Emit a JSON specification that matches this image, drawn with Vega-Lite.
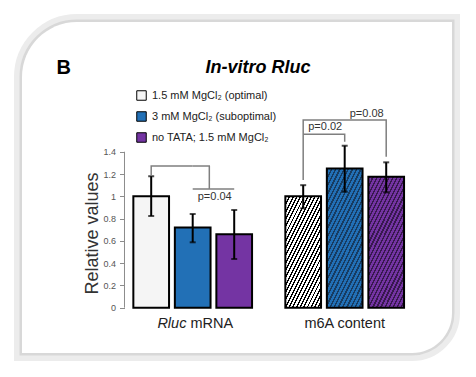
{
"$schema": "https://vega.github.io/schema/vega-lite/v6.json",
"width": 430, "height": 331,
"autosize": {"type": "none"},
"padding": {"left": 22, "top": 22, "right": 24, "bottom": 24},
"background": "white",
"title": {"text": "In-vitro Rluc", "font": "Liberation Sans", "fontSize": 18, "fontWeight": "bold", "fontStyle": "italic", "color": "black", "anchor": "middle", "frame": "group", "baseline": "middle", "offset": 0, "dx": 21, "dy": 72},
"config": {"view": {"stroke": null}, "font": "Liberation Sans"},
"datasets": {
"bars": [
{"group": "Rluc mRNA", "cond": "1.5 mM MgCl₂ (optimal)", "value": 1.0, "lo": 0.823, "hi": 1.18},
{"group": "Rluc mRNA", "cond": "3 mM MgCl₂ (suboptimal)", "value": 0.72, "lo": 0.587, "hi": 0.841},
{"group": "Rluc mRNA", "cond": "no TATA; 1.5 mM MgCl₂", "value": 0.66, "lo": 0.437, "hi": 0.877},
{"group": "m6A content", "cond": "1.5 mM MgCl₂ (optimal)", "value": 1.0, "lo": 0.892, "hi": 1.10},
{"group": "m6A content", "cond": "3 mM MgCl₂ (suboptimal)", "value": 1.25, "lo": 1.041, "hi": 1.454},
{"group": "m6A content", "cond": "no TATA; 1.5 mM MgCl₂", "value": 1.176, "lo": 1.036, "hi": 1.305}
],
"brackets": [
{"id": "b1", "ord": 1, "group": "Rluc mRNA", "cond": "1.5 mM MgCl₂ (optimal)", "y": 1.19},
{"id": "b1", "ord": 2, "group": "Rluc mRNA", "cond": "1.5 mM MgCl₂ (optimal)", "y": 1.272},
{"id": "b1", "ord": 3, "group": "Rluc mRNA", "cond": "3 mM MgCl₂ (suboptimal)", "y": 1.272},
{"id": "b2", "ord": 1, "group": "Rluc mRNA", "cond": "3 mM MgCl₂ (suboptimal)", "y": 1.066},
{"id": "b2", "ord": 2, "group": "Rluc mRNA", "cond": "no TATA; 1.5 mM MgCl₂", "y": 1.066},
{"id": "b4", "ord": 1, "group": "m6A content", "cond": "1.5 mM MgCl₂ (optimal)", "y": 1.146},
{"id": "b4", "ord": 2, "group": "m6A content", "cond": "1.5 mM MgCl₂ (optimal)", "y": 1.686},
{"id": "b4", "ord": 3, "group": "m6A content", "cond": "no TATA; 1.5 mM MgCl₂", "y": 1.686},
{"id": "b4", "ord": 4, "group": "m6A content", "cond": "no TATA; 1.5 mM MgCl₂", "y": 1.356},
{"id": "b5", "ord": 1, "group": "m6A content", "cond": "1.5 mM MgCl₂ (optimal)", "y": 1.557},
{"id": "b5", "ord": 2, "group": "m6A content", "cond": "3 mM MgCl₂ (suboptimal)", "y": 1.557},
{"id": "b5", "ord": 3, "group": "m6A content", "cond": "3 mM MgCl₂ (suboptimal)", "y": 1.49}
],
"plabels": [
{"group": "Rluc mRNA", "cond": "3 mM MgCl₂ (suboptimal)", "y": 0.996, "label": "p=0.04"},
{"group": "m6A content", "cond": "1.5 mM MgCl₂ (optimal)", "y": 1.625, "label": "p=0.02"},
{"group": "m6A content", "cond": "3 mM MgCl₂ (suboptimal)", "y": 1.736, "label": "p=0.08"}
]
},
"layer": [
{"data": {"values": [{}]}, "mark": {"type": "rect", "fillOpacity": 0, "stroke": "#ececec", "strokeWidth": 16, "cornerRadiusTopLeft": 55, "cornerRadiusBottomRight": 40}, "encoding": {"x": {"value": 0}, "x2": {"value": "width"}, "y": {"value": 0}, "y2": {"value": "height"}}},
{"data": {"values": [{}]}, "mark": {"type": "rect", "fillOpacity": 0, "stroke": "#d8d8d8", "strokeWidth": 5, "cornerRadiusTopLeft": 55, "cornerRadiusBottomRight": 40}, "encoding": {"x": {"value": 0}, "x2": {"value": "width"}, "y": {"value": 0}, "y2": {"value": "height"}}},
{"data": {"values": [{}]}, "mark": {"type": "rect", "fill": "white", "strokeWidth": 0, "cornerRadiusTopLeft": 55, "cornerRadiusBottomRight": 40}, "encoding": {"x": {"value": 0}, "x2": {"value": "width"}, "y": {"value": 0}, "y2": {"value": "height"}}},
{"data": {"name": "bars"}, "transform": [{"filter": {"field": "group", "equal": "Rluc mRNA"}}],
 "mark": {"type": "bar", "stroke": "black", "strokeWidth": 2},
 "encoding": {
  "x": {"field": "group", "type": "nominal", "axis": null, "scale": {"domain": ["Rluc mRNA", "m6A content"], "paddingInner": 0.219, "paddingOuter": 0.524, "align": 0.699, "round": false}},
  "xOffset": {"field": "cond", "type": "nominal", "scale": {"domain": ["1.5 mM MgCl₂ (optimal)", "3 mM MgCl₂ (suboptimal)", "no TATA; 1.5 mM MgCl₂"], "paddingInner": 0.14, "paddingOuter": 0}},
  "y": {"field": "value", "type": "quantitative", "scale": {"domain": [-0.407, 2.565], "zero": false, "nice": false},
   "axis": {"title": "Relative values", "zindex": 2, "values": [0, 0.2, 0.4, 0.6, 0.8, 1, 1.2, 1.4], "format": ".1~f", "offset": -102.5, "domain": false, "grid": false, "ticks": true, "tickSize": 5, "tickColor": "#8c8c8c", "labelFontSize": 9, "labelColor": "#555555", "labelPadding": 4, "labelFont": "Liberation Sans", "titleFont": "Liberation Sans", "titleFontSize": 18, "titleFontWeight": "normal", "titleColor": "#333333", "titleAngle": -90, "titleAlign": "center", "titleBaseline": "middle", "titleX": -32, "titleY": 211}},
  "y2": {"datum": 0},
  "fill": {"field": "cond", "type": "nominal", "scale": {"domain": ["1.5 mM MgCl₂ (optimal)", "3 mM MgCl₂ (suboptimal)", "no TATA; 1.5 mM MgCl₂"], "range": ["#f5f5f5", "#2270b6", "#7434a3"]},
   "legend": {"title": null, "orient": "none", "legendX": 114, "legendY": 68, "padding": 0, "symbolType": "square", "symbolSize": 90, "symbolStrokeColor": "black", "symbolStrokeWidth": 1, "labelFontSize": 11, "labelFont": "Liberation Sans", "labelColor": "#222222", "rowPadding": 6, "labelOffset": 5, "zindex": 2}}
 }},
{"data": {"values": [{}]}, "mark": {"type": "rule", "color": "#8c8c8c", "strokeWidth": 1, "xOffset": -8.85},
 "encoding": {"x": {"datum": "Rluc mRNA", "type": "nominal", "bandPosition": 0, "axis": null}, "y": {"datum": 0, "type": "quantitative"}, "y2": {"datum": 1.4}}},
{"data": {"name": "bars"}, "transform": [{"filter": {"field": "group", "equal": "m6A content"}}, {"filter": {"field": "cond", "equal": "1.5 mM MgCl₂ (optimal)"}}],
 "mark": {"type": "bar", "stroke": "black", "strokeWidth": 2, "fill": {"gradient": "linear", "x1": 0, "y1": 0, "x2": 0.746, "y2": 1.163, "stops": [{"offset":0,"color":"#000"},{"offset":0.016,"color":"#000"},{"offset":0.016,"color":"#fff"},{"offset":0.04,"color":"#fff"},{"offset":0.04,"color":"#000"},{"offset":0.056,"color":"#000"},{"offset":0.056,"color":"#fff"},{"offset":0.08,"color":"#fff"},{"offset":0.08,"color":"#000"},{"offset":0.096,"color":"#000"},{"offset":0.096,"color":"#fff"},{"offset":0.12,"color":"#fff"},{"offset":0.12,"color":"#000"},{"offset":0.136,"color":"#000"},{"offset":0.136,"color":"#fff"},{"offset":0.16,"color":"#fff"},{"offset":0.16,"color":"#000"},{"offset":0.176,"color":"#000"},{"offset":0.176,"color":"#fff"},{"offset":0.2,"color":"#fff"},{"offset":0.2,"color":"#000"},{"offset":0.216,"color":"#000"},{"offset":0.216,"color":"#fff"},{"offset":0.24,"color":"#fff"},{"offset":0.24,"color":"#000"},{"offset":0.256,"color":"#000"},{"offset":0.256,"color":"#fff"},{"offset":0.28,"color":"#fff"},{"offset":0.28,"color":"#000"},{"offset":0.296,"color":"#000"},{"offset":0.296,"color":"#fff"},{"offset":0.32,"color":"#fff"},{"offset":0.32,"color":"#000"},{"offset":0.336,"color":"#000"},{"offset":0.336,"color":"#fff"},{"offset":0.36,"color":"#fff"},{"offset":0.36,"color":"#000"},{"offset":0.376,"color":"#000"},{"offset":0.376,"color":"#fff"},{"offset":0.4,"color":"#fff"},{"offset":0.4,"color":"#000"},{"offset":0.416,"color":"#000"},{"offset":0.416,"color":"#fff"},{"offset":0.44,"color":"#fff"},{"offset":0.44,"color":"#000"},{"offset":0.456,"color":"#000"},{"offset":0.456,"color":"#fff"},{"offset":0.48,"color":"#fff"},{"offset":0.48,"color":"#000"},{"offset":0.496,"color":"#000"},{"offset":0.496,"color":"#fff"},{"offset":0.52,"color":"#fff"},{"offset":0.52,"color":"#000"},{"offset":0.536,"color":"#000"},{"offset":0.536,"color":"#fff"},{"offset":0.56,"color":"#fff"},{"offset":0.56,"color":"#000"},{"offset":0.576,"color":"#000"},{"offset":0.576,"color":"#fff"},{"offset":0.6,"color":"#fff"},{"offset":0.6,"color":"#000"},{"offset":0.616,"color":"#000"},{"offset":0.616,"color":"#fff"},{"offset":0.64,"color":"#fff"},{"offset":0.64,"color":"#000"},{"offset":0.656,"color":"#000"},{"offset":0.656,"color":"#fff"},{"offset":0.68,"color":"#fff"},{"offset":0.68,"color":"#000"},{"offset":0.696,"color":"#000"},{"offset":0.696,"color":"#fff"},{"offset":0.72,"color":"#fff"},{"offset":0.72,"color":"#000"},{"offset":0.736,"color":"#000"},{"offset":0.736,"color":"#fff"},{"offset":0.76,"color":"#fff"},{"offset":0.76,"color":"#000"},{"offset":0.776,"color":"#000"},{"offset":0.776,"color":"#fff"},{"offset":0.8,"color":"#fff"},{"offset":0.8,"color":"#000"},{"offset":0.816,"color":"#000"},{"offset":0.816,"color":"#fff"},{"offset":0.84,"color":"#fff"},{"offset":0.84,"color":"#000"},{"offset":0.856,"color":"#000"},{"offset":0.856,"color":"#fff"},{"offset":0.88,"color":"#fff"},{"offset":0.88,"color":"#000"},{"offset":0.896,"color":"#000"},{"offset":0.896,"color":"#fff"},{"offset":0.92,"color":"#fff"},{"offset":0.92,"color":"#000"},{"offset":0.936,"color":"#000"},{"offset":0.936,"color":"#fff"},{"offset":0.96,"color":"#fff"},{"offset":0.96,"color":"#000"},{"offset":0.976,"color":"#000"},{"offset":0.976,"color":"#fff"},{"offset":1,"color":"#fff"}]}},
 "encoding": {"x": {"field": "group", "type": "nominal", "axis": null}, "xOffset": {"field": "cond", "type": "nominal"}, "y": {"field": "value", "type": "quantitative"}, "y2": {"datum": 0}}},
{"data": {"name": "bars"}, "transform": [{"filter": {"field": "group", "equal": "m6A content"}}, {"filter": {"field": "cond", "equal": "3 mM MgCl₂ (suboptimal)"}}],
 "mark": {"type": "bar", "stroke": "black", "strokeWidth": 2, "fill": {"gradient": "linear", "x1": 0, "y1": 0, "x2": 0.619, "y2": 1.197, "stops": [{"offset":0,"color":"#173c61"},{"offset":0.016,"color":"#173c61"},{"offset":0.016,"color":"#2270b6"},{"offset":0.04,"color":"#2270b6"},{"offset":0.04,"color":"#173c61"},{"offset":0.056,"color":"#173c61"},{"offset":0.056,"color":"#2270b6"},{"offset":0.08,"color":"#2270b6"},{"offset":0.08,"color":"#173c61"},{"offset":0.096,"color":"#173c61"},{"offset":0.096,"color":"#2270b6"},{"offset":0.12,"color":"#2270b6"},{"offset":0.12,"color":"#173c61"},{"offset":0.136,"color":"#173c61"},{"offset":0.136,"color":"#2270b6"},{"offset":0.16,"color":"#2270b6"},{"offset":0.16,"color":"#173c61"},{"offset":0.176,"color":"#173c61"},{"offset":0.176,"color":"#2270b6"},{"offset":0.2,"color":"#2270b6"},{"offset":0.2,"color":"#173c61"},{"offset":0.216,"color":"#173c61"},{"offset":0.216,"color":"#2270b6"},{"offset":0.24,"color":"#2270b6"},{"offset":0.24,"color":"#173c61"},{"offset":0.256,"color":"#173c61"},{"offset":0.256,"color":"#2270b6"},{"offset":0.28,"color":"#2270b6"},{"offset":0.28,"color":"#173c61"},{"offset":0.296,"color":"#173c61"},{"offset":0.296,"color":"#2270b6"},{"offset":0.32,"color":"#2270b6"},{"offset":0.32,"color":"#173c61"},{"offset":0.336,"color":"#173c61"},{"offset":0.336,"color":"#2270b6"},{"offset":0.36,"color":"#2270b6"},{"offset":0.36,"color":"#173c61"},{"offset":0.376,"color":"#173c61"},{"offset":0.376,"color":"#2270b6"},{"offset":0.4,"color":"#2270b6"},{"offset":0.4,"color":"#173c61"},{"offset":0.416,"color":"#173c61"},{"offset":0.416,"color":"#2270b6"},{"offset":0.44,"color":"#2270b6"},{"offset":0.44,"color":"#173c61"},{"offset":0.456,"color":"#173c61"},{"offset":0.456,"color":"#2270b6"},{"offset":0.48,"color":"#2270b6"},{"offset":0.48,"color":"#173c61"},{"offset":0.496,"color":"#173c61"},{"offset":0.496,"color":"#2270b6"},{"offset":0.52,"color":"#2270b6"},{"offset":0.52,"color":"#173c61"},{"offset":0.536,"color":"#173c61"},{"offset":0.536,"color":"#2270b6"},{"offset":0.56,"color":"#2270b6"},{"offset":0.56,"color":"#173c61"},{"offset":0.576,"color":"#173c61"},{"offset":0.576,"color":"#2270b6"},{"offset":0.6,"color":"#2270b6"},{"offset":0.6,"color":"#173c61"},{"offset":0.616,"color":"#173c61"},{"offset":0.616,"color":"#2270b6"},{"offset":0.64,"color":"#2270b6"},{"offset":0.64,"color":"#173c61"},{"offset":0.656,"color":"#173c61"},{"offset":0.656,"color":"#2270b6"},{"offset":0.68,"color":"#2270b6"},{"offset":0.68,"color":"#173c61"},{"offset":0.696,"color":"#173c61"},{"offset":0.696,"color":"#2270b6"},{"offset":0.72,"color":"#2270b6"},{"offset":0.72,"color":"#173c61"},{"offset":0.736,"color":"#173c61"},{"offset":0.736,"color":"#2270b6"},{"offset":0.76,"color":"#2270b6"},{"offset":0.76,"color":"#173c61"},{"offset":0.776,"color":"#173c61"},{"offset":0.776,"color":"#2270b6"},{"offset":0.8,"color":"#2270b6"},{"offset":0.8,"color":"#173c61"},{"offset":0.816,"color":"#173c61"},{"offset":0.816,"color":"#2270b6"},{"offset":0.84,"color":"#2270b6"},{"offset":0.84,"color":"#173c61"},{"offset":0.856,"color":"#173c61"},{"offset":0.856,"color":"#2270b6"},{"offset":0.88,"color":"#2270b6"},{"offset":0.88,"color":"#173c61"},{"offset":0.896,"color":"#173c61"},{"offset":0.896,"color":"#2270b6"},{"offset":0.92,"color":"#2270b6"},{"offset":0.92,"color":"#173c61"},{"offset":0.936,"color":"#173c61"},{"offset":0.936,"color":"#2270b6"},{"offset":0.96,"color":"#2270b6"},{"offset":0.96,"color":"#173c61"},{"offset":0.976,"color":"#173c61"},{"offset":0.976,"color":"#2270b6"},{"offset":1,"color":"#2270b6"}]}},
 "encoding": {"x": {"field": "group", "type": "nominal", "axis": null}, "xOffset": {"field": "cond", "type": "nominal"}, "y": {"field": "value", "type": "quantitative"}, "y2": {"datum": 0}}},
{"data": {"name": "bars"}, "transform": [{"filter": {"field": "group", "equal": "m6A content"}}, {"filter": {"field": "cond", "equal": "no TATA; 1.5 mM MgCl₂"}}],
 "mark": {"type": "bar", "stroke": "black", "strokeWidth": 2, "fill": {"gradient": "linear", "x1": 0, "y1": 0, "x2": 0.653, "y2": 1.191, "stops": [{"offset":0,"color":"#38184f"},{"offset":0.016,"color":"#38184f"},{"offset":0.016,"color":"#7434a3"},{"offset":0.04,"color":"#7434a3"},{"offset":0.04,"color":"#38184f"},{"offset":0.056,"color":"#38184f"},{"offset":0.056,"color":"#7434a3"},{"offset":0.08,"color":"#7434a3"},{"offset":0.08,"color":"#38184f"},{"offset":0.096,"color":"#38184f"},{"offset":0.096,"color":"#7434a3"},{"offset":0.12,"color":"#7434a3"},{"offset":0.12,"color":"#38184f"},{"offset":0.136,"color":"#38184f"},{"offset":0.136,"color":"#7434a3"},{"offset":0.16,"color":"#7434a3"},{"offset":0.16,"color":"#38184f"},{"offset":0.176,"color":"#38184f"},{"offset":0.176,"color":"#7434a3"},{"offset":0.2,"color":"#7434a3"},{"offset":0.2,"color":"#38184f"},{"offset":0.216,"color":"#38184f"},{"offset":0.216,"color":"#7434a3"},{"offset":0.24,"color":"#7434a3"},{"offset":0.24,"color":"#38184f"},{"offset":0.256,"color":"#38184f"},{"offset":0.256,"color":"#7434a3"},{"offset":0.28,"color":"#7434a3"},{"offset":0.28,"color":"#38184f"},{"offset":0.296,"color":"#38184f"},{"offset":0.296,"color":"#7434a3"},{"offset":0.32,"color":"#7434a3"},{"offset":0.32,"color":"#38184f"},{"offset":0.336,"color":"#38184f"},{"offset":0.336,"color":"#7434a3"},{"offset":0.36,"color":"#7434a3"},{"offset":0.36,"color":"#38184f"},{"offset":0.376,"color":"#38184f"},{"offset":0.376,"color":"#7434a3"},{"offset":0.4,"color":"#7434a3"},{"offset":0.4,"color":"#38184f"},{"offset":0.416,"color":"#38184f"},{"offset":0.416,"color":"#7434a3"},{"offset":0.44,"color":"#7434a3"},{"offset":0.44,"color":"#38184f"},{"offset":0.456,"color":"#38184f"},{"offset":0.456,"color":"#7434a3"},{"offset":0.48,"color":"#7434a3"},{"offset":0.48,"color":"#38184f"},{"offset":0.496,"color":"#38184f"},{"offset":0.496,"color":"#7434a3"},{"offset":0.52,"color":"#7434a3"},{"offset":0.52,"color":"#38184f"},{"offset":0.536,"color":"#38184f"},{"offset":0.536,"color":"#7434a3"},{"offset":0.56,"color":"#7434a3"},{"offset":0.56,"color":"#38184f"},{"offset":0.576,"color":"#38184f"},{"offset":0.576,"color":"#7434a3"},{"offset":0.6,"color":"#7434a3"},{"offset":0.6,"color":"#38184f"},{"offset":0.616,"color":"#38184f"},{"offset":0.616,"color":"#7434a3"},{"offset":0.64,"color":"#7434a3"},{"offset":0.64,"color":"#38184f"},{"offset":0.656,"color":"#38184f"},{"offset":0.656,"color":"#7434a3"},{"offset":0.68,"color":"#7434a3"},{"offset":0.68,"color":"#38184f"},{"offset":0.696,"color":"#38184f"},{"offset":0.696,"color":"#7434a3"},{"offset":0.72,"color":"#7434a3"},{"offset":0.72,"color":"#38184f"},{"offset":0.736,"color":"#38184f"},{"offset":0.736,"color":"#7434a3"},{"offset":0.76,"color":"#7434a3"},{"offset":0.76,"color":"#38184f"},{"offset":0.776,"color":"#38184f"},{"offset":0.776,"color":"#7434a3"},{"offset":0.8,"color":"#7434a3"},{"offset":0.8,"color":"#38184f"},{"offset":0.816,"color":"#38184f"},{"offset":0.816,"color":"#7434a3"},{"offset":0.84,"color":"#7434a3"},{"offset":0.84,"color":"#38184f"},{"offset":0.856,"color":"#38184f"},{"offset":0.856,"color":"#7434a3"},{"offset":0.88,"color":"#7434a3"},{"offset":0.88,"color":"#38184f"},{"offset":0.896,"color":"#38184f"},{"offset":0.896,"color":"#7434a3"},{"offset":0.92,"color":"#7434a3"},{"offset":0.92,"color":"#38184f"},{"offset":0.936,"color":"#38184f"},{"offset":0.936,"color":"#7434a3"},{"offset":0.96,"color":"#7434a3"},{"offset":0.96,"color":"#38184f"},{"offset":0.976,"color":"#38184f"},{"offset":0.976,"color":"#7434a3"},{"offset":1,"color":"#7434a3"}]}},
 "encoding": {"x": {"field": "group", "type": "nominal", "axis": null}, "xOffset": {"field": "cond", "type": "nominal"}, "y": {"field": "value", "type": "quantitative"}, "y2": {"datum": 0}}},
{"data": {"name": "bars"}, "mark": {"type": "rule", "color": "black", "strokeWidth": 2},
 "encoding": {"x": {"field": "group", "type": "nominal", "axis": null}, "xOffset": {"field": "cond", "type": "nominal"}, "y": {"field": "lo", "type": "quantitative"}, "y2": {"field": "hi"}}},
{"data": {"name": "bars"}, "transform": [{"fold": ["lo", "hi"], "as": ["end", "v"]}], "mark": {"type": "tick", "color": "black", "thickness": 2, "size": 6},
 "encoding": {"x": {"field": "group", "type": "nominal", "axis": null}, "xOffset": {"field": "cond", "type": "nominal"}, "y": {"field": "v", "type": "quantitative"}}},
{"data": {"name": "brackets"}, "mark": {"type": "line", "color": "#7f7f7f", "strokeWidth": 1.5},
 "encoding": {"x": {"field": "group", "type": "nominal", "axis": null}, "xOffset": {"field": "cond", "type": "nominal"}, "y": {"field": "y", "type": "quantitative"}, "detail": {"field": "id"}, "order": {"field": "ord"}}},
{"data": {"values": [{}]}, "mark": {"type": "rule", "color": "#7f7f7f", "strokeWidth": 1.5},
 "encoding": {"x": {"datum": "Rluc mRNA", "type": "nominal", "bandPosition": 0.64, "axis": null}, "y": {"datum": 1.272, "type": "quantitative"}, "y2": {"datum": 1.066}}},
{"data": {"values": [{}]}, "mark": {"type": "rule", "color": "#7f7f7f", "strokeWidth": 1.5},
 "encoding": {"x": {"datum": "Rluc mRNA", "type": "nominal", "bandPosition": 0.5, "axis": null}, "x2": {"datum": "Rluc mRNA", "bandPosition": 0.646}, "y": {"datum": 1.272, "type": "quantitative"}}},
{"data": {"name": "plabels"}, "mark": {"type": "text", "fontSize": 11, "color": "#333333", "dx": 22, "baseline": "middle", "font": "Liberation Sans"},
 "encoding": {"x": {"field": "group", "type": "nominal", "axis": null}, "xOffset": {"field": "cond", "type": "nominal"}, "y": {"field": "y", "type": "quantitative"}, "text": {"field": "label"}}},
{"data": {"values": [{"group": "Rluc mRNA", "t": "Rluc"}]}, "mark": {"type": "text", "fontSize": 14.5, "fontStyle": "italic", "color": "#222222", "align": "right", "baseline": "middle", "dx": -6.3, "font": "Liberation Sans"},
 "encoding": {"x": {"field": "group", "type": "nominal", "axis": null}, "y": {"datum": -0.146, "type": "quantitative"}, "text": {"field": "t"}}},
{"data": {"values": [{"group": "Rluc mRNA", "t": "mRNA"}]}, "mark": {"type": "text", "fontSize": 14.5, "color": "#222222", "align": "left", "baseline": "middle", "dx": -2.3, "font": "Liberation Sans"},
 "encoding": {"x": {"field": "group", "type": "nominal", "axis": null}, "y": {"datum": -0.146, "type": "quantitative"}, "text": {"field": "t"}}},
{"data": {"values": [{"group": "m6A content", "t": "m6A content"}]}, "mark": {"type": "text", "fontSize": 14.5, "color": "#222222", "align": "center", "baseline": "middle", "font": "Liberation Sans"},
 "encoding": {"x": {"field": "group", "type": "nominal", "axis": null}, "y": {"datum": -0.146, "type": "quantitative"}, "text": {"field": "t"}}},
{"data": {"values": [{"t": "B"}]}, "mark": {"type": "text", "fontSize": 20, "fontWeight": "bold", "color": "black", "align": "center", "baseline": "middle", "dx": -69.7, "font": "Liberation Sans"},
 "encoding": {"x": {"datum": "Rluc mRNA", "type": "nominal", "bandPosition": 0, "axis": null}, "y": {"datum": 2.152, "type": "quantitative"}, "text": {"field": "t"}}}
]
}
